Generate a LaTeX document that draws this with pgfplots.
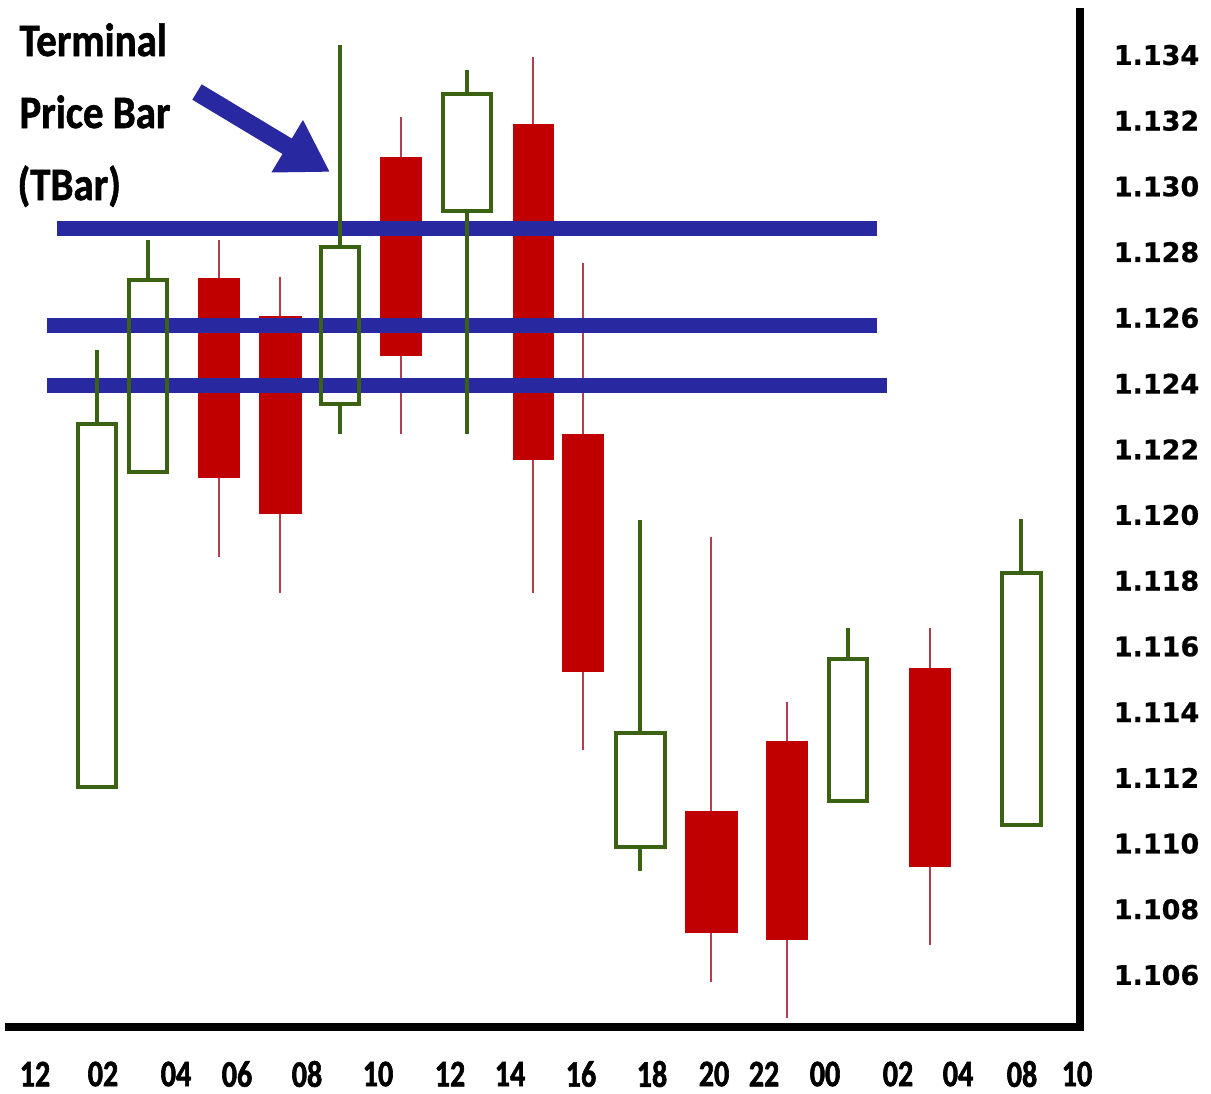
\documentclass[border=0pt]{standalone}
\usepackage{pgfplots}
\pgfplotsset{compat=1.18}
\usepgfplotslibrary{statistics}
\usetikzlibrary{arrows.meta}
\usepackage{fontspec}
\setmainfont{Carlito}
\newfontfamily\tfont[FakeStretch=0.88, FakeBold=1.2]{Carlito}
\newfontfamily\xfont[FakeStretch=0.8, FakeBold=1.5]{Carlito}
\newfontfamily\yfont[FakeBold=0.6]{DejaVu Sans}
\definecolor{cred}{RGB}{192,0,0}
\definecolor{cwick}{RGB}{176,64,80}
\definecolor{cgreen}{RGB}{58,98,18}
\definecolor{cblue}{RGB}{40,40,160}
\pgfplotsset{
  rcandle/.style={boxplot/draw direction=y, fill=cred, draw=cred, line width=0.2pt,
    boxplot/whisker extend=0,
    boxplot/every whisker/.style={draw=cwick, line width=0.7pt},
    boxplot/every median/.style={draw=none}},
  gcandle/.style={boxplot/draw direction=y, fill=none, draw=cgreen, line width=1.6pt,
    boxplot/whisker extend=0,
    boxplot/every whisker/.style={draw=cgreen, line width=1.6pt},
    boxplot/every median/.style={draw=none}},
}
\begin{document}
\begin{tikzpicture}
\begin{axis}[
  at={(3.6pt,-410.8pt)}, anchor=south west,
  scale only axis, width=428.4pt, height=406pt,
  xmin=9, xmax=1080, ymin=1.104417, ymax=1.135309,
  axis x line*=bottom, axis y line*=right,
  axis line style={line width=3.2pt, black, line cap=rect},
  tick style={draw=none},
  xtick={35,103,176,237,307,378,450,510,581,652,714,764,825,898,958,1022,1077},
  xticklabels={12,02,04,06,08,10,12,14,16,18,20,22,00,02,04,08,10},
  xticklabel style={anchor=center, yshift=-18.8pt, inner sep=0pt, font=\xfont\bfseries\fontsize{15}{16}\selectfont},
  ytick={1.106,1.108,1.110,1.112,1.114,1.116,1.118,1.120,1.122,1.124,1.126,1.128,1.130,1.132,1.134},
  yticklabels={1.106,1.108,1.110,1.112,1.114,1.116,1.118,1.120,1.122,1.124,1.126,1.128,1.130,1.132,1.134},
  yticklabel style={anchor=center, xshift=30.6pt, inner sep=0pt, font=\yfont\bfseries\fontsize{10.8}{12}\selectfont},
  clip=false,
]
% red (bearish) candles
\addplot[rcandle, boxplot prepared={draw position=219, box extend=41, lower whisker=1.11872, lower quartile=1.12116, median=1.12116, upper quartile=1.12721, upper whisker=1.12837}] coordinates {};
\addplot[rcandle, boxplot prepared={draw position=280, box extend=42, lower whisker=1.11763, lower quartile=1.12006, median=1.12006, upper quartile=1.12606, upper whisker=1.12724}] coordinates {};
\addplot[rcandle, boxplot prepared={draw position=401, box extend=41, lower whisker=1.12247, lower quartile=1.12487, median=1.12487, upper quartile=1.13090, upper whisker=1.13211}] coordinates {};
\addplot[rcandle, boxplot prepared={draw position=533, box extend=40, lower whisker=1.11763, lower quartile=1.12170, median=1.12170, upper quartile=1.13190, upper whisker=1.13394}] coordinates {};
\addplot[rcandle, boxplot prepared={draw position=583, box extend=41, lower whisker=1.11285, lower quartile=1.11525, median=1.11525, upper quartile=1.12247, upper whisker=1.12767}] coordinates {};
\addplot[rcandle, boxplot prepared={draw position=711, box extend=52, lower whisker=1.10579, lower quartile=1.10731, median=1.10731, upper quartile=1.11099, upper whisker=1.11933}] coordinates {};
\addplot[rcandle, boxplot prepared={draw position=787, box extend=41, lower whisker=1.10469, lower quartile=1.10710, median=1.10710, upper quartile=1.11312, upper whisker=1.11431}] coordinates {};
\addplot[rcandle, boxplot prepared={draw position=930, box extend=41, lower whisker=1.10691, lower quartile=1.10932, median=1.10932, upper quartile=1.11534, upper whisker=1.11656}] coordinates {};
% blue levels
\addplot[cblue, line width=6pt] coordinates {(57,1.12873) (877,1.12873)};
\addplot[cblue, line width=6pt] coordinates {(47,1.12578) (877,1.12578)};
\addplot[cblue, line width=6pt] coordinates {(47,1.12393) (887,1.12393)};
% green (bullish) hollow candles
\addplot[gcandle, boxplot prepared={draw position=97, box extend=38, lower whisker=1.11172, lower quartile=1.11172, median=1.11172, upper quartile=1.12277, upper whisker=1.12502}] coordinates {};
\addplot[gcandle, boxplot prepared={draw position=148, box extend=38, lower whisker=1.12131, lower quartile=1.12131, median=1.12131, upper quartile=1.12715, upper whisker=1.12837}] coordinates {};
\addplot[gcandle, boxplot prepared={draw position=340, box extend=38, lower whisker=1.12247, lower quartile=1.12338, median=1.12338, upper quartile=1.12816, upper whisker=1.13430}] coordinates {};
\addplot[gcandle, boxplot prepared={draw position=467, box extend=48, lower whisker=1.12247, lower quartile=1.12925, median=1.12925, upper quartile=1.13281, upper whisker=1.13354}] coordinates {};
\addplot[gcandle, boxplot prepared={draw position=640, box extend=49, lower whisker=1.10917, lower quartile=1.10990, median=1.10990, upper quartile=1.11337, upper whisker=1.11985}] coordinates {};
\addplot[gcandle, boxplot prepared={draw position=848, box extend=38, lower whisker=1.11130, lower quartile=1.11130, median=1.11130, upper quartile=1.11562, upper whisker=1.11656}] coordinates {};
\addplot[gcandle, boxplot prepared={draw position=1021, box extend=39, lower whisker=1.11057, lower quartile=1.11057, median=1.11057, upper quartile=1.11823, upper whisker=1.11988}] coordinates {};
\end{axis}
\begin{scope}[x=0.4pt, y=-0.4pt]
\path[use as bounding box] (0,0) rectangle (1211,1093);
\node[anchor=base west, inner sep=0pt, font=\tfont\bfseries\fontsize{18.6}{20}\selectfont] at (19,56) {Terminal};
\node[anchor=base west, inner sep=0pt, font=\tfont\bfseries\fontsize{18.6}{20}\selectfont] at (19,128) {Price Bar};
\node[anchor=base west, inner sep=0pt, font=\tfont\bfseries\fontsize{18.6}{20}\selectfont] at (17,200) {(TBar)};
\draw[cblue, line width=7.2pt, -{Triangle[length=20pt, width=23pt]}] (197,92) -- (330,172);
\end{scope}
\end{tikzpicture}
\end{document}
